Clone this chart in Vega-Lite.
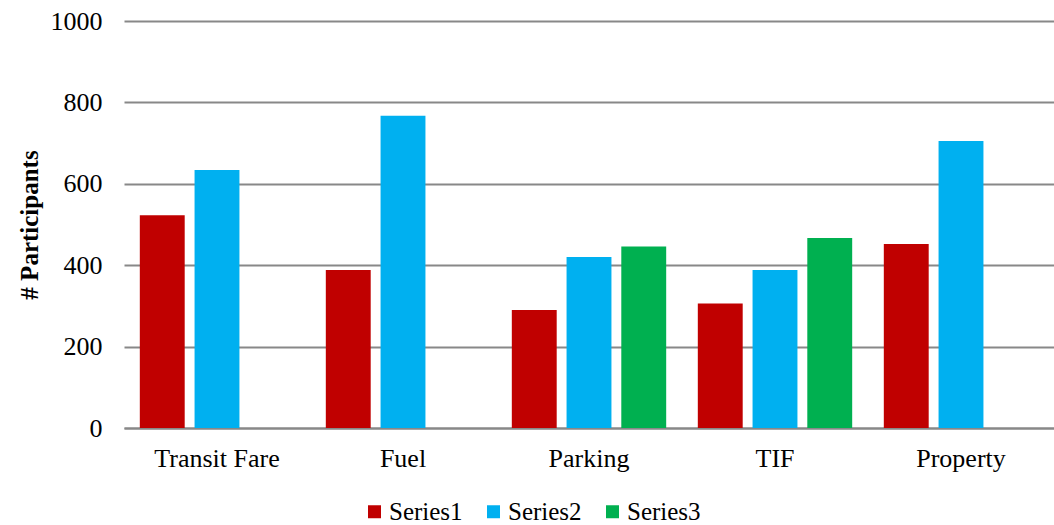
{
  "$schema": "https://vega.github.io/schema/vega-lite/v6.json",
  "autosize": "none",
  "width": 930,
  "height": 407,
  "padding": {"left": 124, "top": 21, "right": 0, "bottom": 97},
  "background": "white",
  "config": {
    "font": "Liberation Serif",
    "view": {"stroke": null},
    "axis": {"labelFont": "Liberation Serif", "titleFont": "Liberation Serif", "labelColor": "black", "titleColor": "black"}
  },
  "data": {
    "values": [
      {"cat": "Transit Fare", "series": "Series1", "value": 523},
      {"cat": "Transit Fare", "series": "Series2", "value": 634},
      {"cat": "Fuel", "series": "Series1", "value": 388},
      {"cat": "Fuel", "series": "Series2", "value": 767},
      {"cat": "Parking", "series": "Series1", "value": 290},
      {"cat": "Parking", "series": "Series2", "value": 420},
      {"cat": "Parking", "series": "Series3", "value": 446},
      {"cat": "TIF", "series": "Series1", "value": 306},
      {"cat": "TIF", "series": "Series2", "value": 388},
      {"cat": "TIF", "series": "Series3", "value": 467},
      {"cat": "Property", "series": "Series1", "value": 452},
      {"cat": "Property", "series": "Series2", "value": 705}
    ]
  },
  "mark": {"type": "bar"},
  "encoding": {
    "x": {
      "field": "cat", "type": "nominal", "sort": null,
      "scale": {"paddingInner": 0.17, "paddingOuter": 0.085},
      "axis": {"title": null, "labelAngle": 0, "labelFontSize": 26, "labelPadding": 17, "ticks": false, "domainColor": "#888888", "domainWidth": 2}
    },
    "xOffset": {"field": "series", "type": "nominal", "scale": {"domain": ["Series1", "Series2", "Series3"], "paddingInner": 0.18}},
    "y": {
      "field": "value", "type": "quantitative",
      "scale": {"domain": [0, 1000]},
      "axis": {"title": "# Participants", "titleFontSize": 25, "titleFontWeight": "bold", "titlePadding": 8, "labelFontSize": 26, "labelPadding": 22, "format": "d", "labelOverlap": false, "values": [0,200,400,600,800,1000], "ticks": false, "domain": false, "gridColor": "#888888", "gridWidth": 2}
    },
    "color": {
      "field": "series", "type": "nominal",
      "scale": {"domain": ["Series1", "Series2", "Series3"], "range": ["#C00000", "#00B0F0", "#00B050"]},
      "legend": {"orient": "none", "legendX": 238, "legendY": 478, "direction": "horizontal", "title": null, "symbolType": "square", "symbolSize": 169, "symbolStrokeWidth": 0, "labelFontSize": 25, "labelOffset": 2, "columnPadding": 18, "labelFont": "Liberation Serif", "labelColor": "black"}
    }
  }
}
